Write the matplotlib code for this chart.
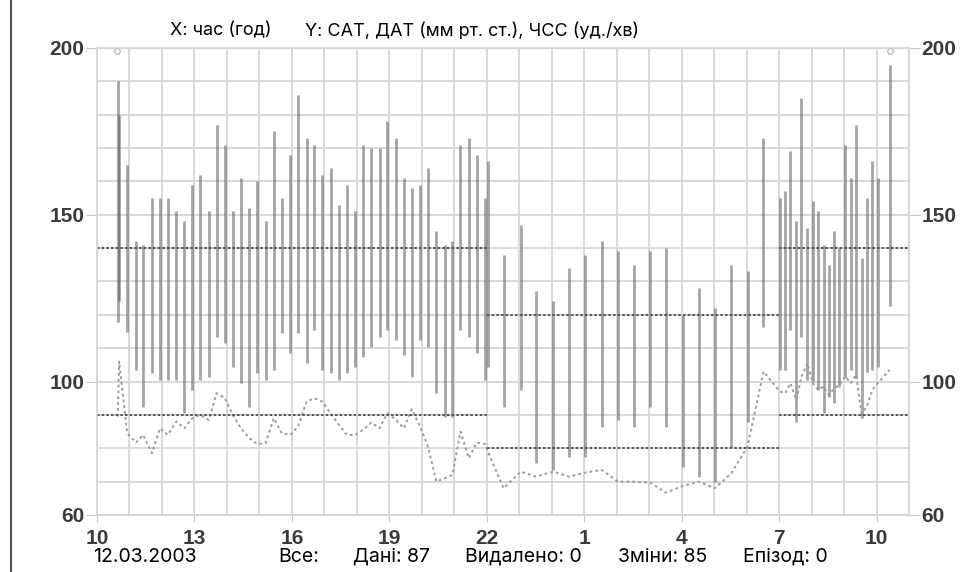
import numpy as np
import matplotlib.pyplot as plt
from matplotlib.lines import Line2D

# час вимірювання (години від 10:00 першого дня, 24+ = наступна доба)
hours = [10.64, 10.68, 10.93, 11.20, 11.42, 11.69, 11.94, 12.18, 12.44, 12.69,
         12.93, 13.18, 13.44, 13.68, 13.94, 14.18, 14.43, 14.69, 14.93, 15.19,
         15.44, 15.69, 15.95, 16.19, 16.45, 16.69, 16.94, 17.19, 17.45, 17.69,
         17.95, 18.19, 18.45, 18.70, 18.94, 19.20, 19.45, 19.69, 19.95, 20.19,
         20.45, 20.70, 20.94, 21.19, 21.45, 21.69, 21.95, 22.05, 22.52, 23.04,
         23.53, 24.04, 24.53, 25.04, 25.54, 26.04, 26.53, 27.04, 27.51, 28.04,
         28.53, 29.02, 29.53, 30.03, 30.52, 31.02, 31.19, 31.35, 31.53, 31.69,
         31.87, 32.04, 32.21, 32.37, 32.53, 32.70, 32.86, 33.04, 33.20, 33.37,
         33.54, 33.70, 33.87, 34.04, 34.40]

# систолічний тиск
sat = [190, 180, 165, 142, 141, 155, 155, 155, 151, 148,
       159, 162, 151, 177, 171, 151, 161, 152, 160, 148,
       175, 155, 168, 186, 173, 171, 162, 164, 153, 159,
       151, 171, 170, 170, 178, 173, 161, 158, 159, 164,
       145, 141, 142, 171, 173, 168, 155, 166, 138, 147,
       127, 124, 134, 138, 142, 139, 135, 139, 140, 120,
       128, 122, 135, 133, 173, 155, 157, 169, 148, 185,
       146, 154, 151, 141, 135, 145, 140, 171, 161, 177,
       137, 155, 166, 161, 195]

# діастолічний тиск
dat = [118, 124, 115, 103.5, 92.5, 102.5, 100.5, 100.5, 100.5, 90.5,
       97.5, 100.5, 101.5, 113.5, 111.5, 104.5, 99.5, 92.5, 102.5, 100.5,
       103.5, 114.5, 108.5, 114.5, 105.5, 115.5, 103.5, 102.5, 100.5, 102.5,
       104.5, 107.5, 110.5, 113.5, 115.5, 112.5, 108, 101.5, 112.5, 110.5,
       96.5, 89.5, 89.5, 115.5, 113.5, 108.5, 100.5, 104.5, 92.5, 97.5,
       75.5, 73.5, 77.5, 77.5, 86.5, 88.5, 86.5, 92.5, 86.5, 74.5,
       71.5, 70, 80.5, 88, 116.5, 103.5, 103.5, 115.5, 88, 113.5,
       100.5, 100, 97.5, 90.5, 95.5, 93.5, 98.5, 101, 103.5, 101,
       89, 103, 103.5, 104.5, 122.5]

# частота серцевих скорочень
hr = [89.5, 106, 84.5, 81.7, 84, 78.5, 86, 84, 88, 86,
      89, 90, 88.5, 96.5, 95, 90, 86, 83, 81.3, 81.5,
      89, 84.5, 84, 86.5, 94, 95, 94, 90.5, 87, 84,
      84, 85.5, 87.7, 86, 90.5, 88.5, 86, 91.7, 86.5, 80.5,
      70, 71, 72, 85, 77, 81.7, 81.3, 78.6, 68, 73,
      71.5, 73, 71.5, 72.7, 73.5, 70, 70, 69.7, 66.7, 68.7,
      70, 68, 72.5, 80.5, 103, 97, 96.5, 99.5, 94.5, 101.5,
      105.5, 99.5, 97.5, 98.5, 96, 98, 99, 101.5, 99.5, 102,
      90.5, 92.5, 97.5, 99.5, 103.5]

# порогові значення: (початок, кінець, САТ, ДАТ)
period_start = [10, 22, 31]
period_end = [22, 31, 35]
limit_sat = [140, 120, 140]
limit_dat = [90, 80, 90]

# позначки початку/кінця
marks = [10.62, 34.43]

xticks = [10, 13, 16, 19, 22, 25, 28, 31, 34]
xlabels = ['10', '13', '16', '19', '22', '1', '4', '7', '10']
yticks = [60, 100, 150, 200]

txt_font = ['Inter', 'DejaVu Sans']

fig = plt.figure(figsize=(9.75, 5.72), dpi=100)
ax = fig.add_axes([0.0995, 0.0997, 0.8328, 0.8164])

ax.set_xlim(10, 35)
ax.set_ylim(60, 200)

# сітка
ax.set_xticks(np.arange(10, 36), minor=True)
ax.set_yticks(np.arange(60, 201, 10), minor=True)
ax.grid(which='both', color='#d2d2d2', lw=1.2)
ax.set_axisbelow(True)
for s in ax.spines.values():
    s.set_color('#d2d2d2')
    s.set_linewidth(1.2)

ax.set_xticks(xticks)
ax.set_xticklabels(xlabels)
ax.set_yticks(yticks)
ax.tick_params(which='minor', length=0)
ax.tick_params(axis='x', which='major', length=5, color='#c8c8c8', pad=5,
               labelsize=15, labelcolor='#3a3a3a')
ax.tick_params(axis='y', which='major', length=8, color='#c8c8c8', pad=1,
               labelsize=15, labelcolor='#3a3a3a', left=True, right=True,
               labelleft=True, labelright=True)
for lab in ax.get_xticklabels() + ax.get_yticklabels():
    lab.set_fontfamily('Liberation Sans')
    lab.set_fontweight('bold')

# стовпчики САТ-ДАТ
ax.vlines(hours, dat, sat, color='#5a5a5a', alpha=0.55, lw=2.0)

# ЧСС
ax.plot(hours, hr, color='#9a9a9a', lw=1.4, ls=(0, (1.4, 1.6)))

# порогові лінії
for a, b, s1, d1 in zip(period_start, period_end, limit_sat, limit_dat):
    ax.hlines([s1, d1], a, b, color='#555555', lw=1.4, ls=(0, (1.3, 1.1)))

ax.plot(marks, [199, 199], 'o', mfc='none', mec='#b0b0b0', ms=4, mew=0.8,
        clip_on=False)

# заголовок
fig.text(170 / 975, 1 - 31 / 572, 'X: час (год)', fontsize=13,
         family=txt_font, va='center', ha='left')
fig.text(305 / 975, 1 - 31 / 572, 'Y: САТ, ДАТ (мм рт. ст.), ЧСС (уд./хв)',
         fontsize=13, family=txt_font, va='center', ha='left')

# нижній рядок
footer_x = [93, 278, 353, 465, 618, 743]
footer_txt = ['12.03.2003', 'Все:', 'Дані: 87', 'Видалено: 0', 'Зміни: 85',
              'Епізод: 0']
for fx, ft in zip(footer_x, footer_txt):
    fig.text(fx / 975, 1 - 557 / 572, ft, fontsize=14, family=txt_font,
             va='center', ha='left')

# рамка зліва
fig.add_artist(Line2D([11 / 975, 11 / 975], [0, 1], transform=fig.transFigure,
                      color='#555555', lw=1.6))

fig.savefig('out.png', dpi=100)
